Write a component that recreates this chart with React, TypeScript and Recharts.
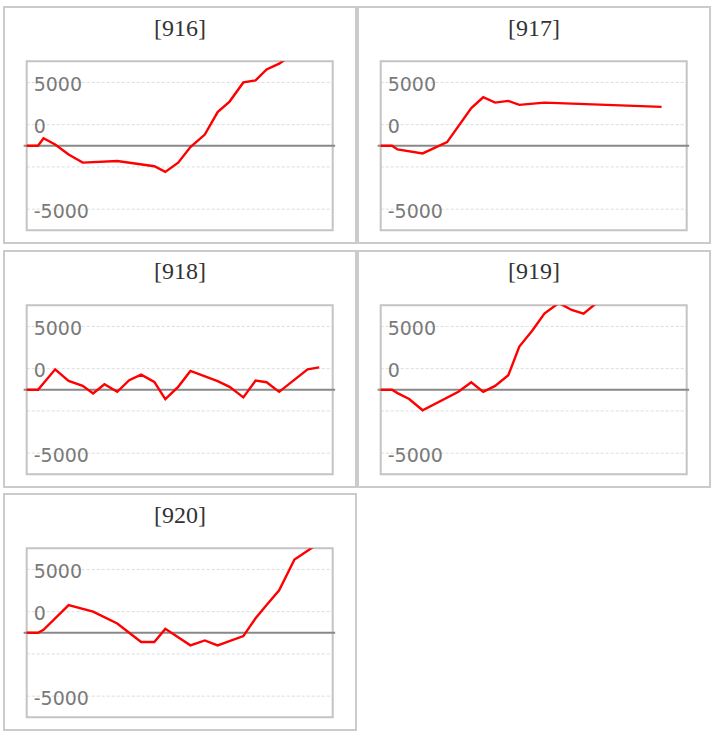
import React from 'react';
import { LineChart, Line, XAxis, YAxis, CartesianGrid, ReferenceLine, ReferenceArea } from 'recharts';

// shared sample times (x axis runs 0..100)
const times = [
  0, 3.7, 5.5, 9.3, 13.7, 18.3, 21.7, 25.4, 29.6, 33.5, 37.4, 41.7, 45.3,
  49.5, 53.5, 58.2, 62.4, 66.3, 70.8, 74.8, 78.4, 82.5, 87.5, 91.8, 95.6,
];

const v916 = [
  0, 0, 600, 100, -680, -1330, null, null, -1200, null, null, -1610, -2060,
  -1330, -100, 885, 2660, 3490, 5000, 5160, 6020, 6480, 7300, null, null,
];
const v917 = [
  0, 0, -290, null, -600, null, 290, null, 2970, 3830, 3410, 3540, 3230,
  null, 3410, null, null, null, null, null, null, null, null, 3070, null,
];
const v918 = [
  0, 0, null, 1615, 700, 310, -290, 440, -160, 755, 1200, 625, -730,
  235, 1485, null, 680, 235, -600, 730, 600, -160, null, 1615, 1770,
];
const v919 = [
  0, 0, -260, -730, -1615, null, null, -160, 600, -160, 310, 1150, 3410,
  4660, 6015, 6850, 6300, 6015, 6900, 7600, null, null, null, null, null,
];
const v920 = [
  0, 0, 235, null, 2190, null, 1670, null, 730, null, -730, -730, 310,
  null, -990, -600, -990, null, -260, 1150, 2190, 3360, 5780, 6480, 7100,
];

const titles = ['916', '917', '918', '919', '920'];
const seriesList = [v916, v917, v918, v919, v920];

const yTicks = [-5000, -3333, -1667, 0, 1667, 3333, 5000];
const yTickLabels = ['-5000', '', '', '', '0', '', '5000'];
const yDomain = [-6667, 6667];

const PANEL_W = 354;
const PANEL_H = 238;
const PLOT_LEFT = 21.7;

function YTick(props: any) {
  const { y, payload } = props;
  const label = yTickLabels[yTicks.indexOf(payload.value)];
  if (!label) return <g />;
  return (
    <text x={PLOT_LEFT + 7} y={y + 8.5} fontFamily="DejaVu Sans, Verdana, sans-serif" fontSize={19} fill="#7a7a7a">
      {label}
    </text>
  );
}

function Panel({ title, values, left, top }: { title: string; values: (number | null)[]; left: number; top: number }) {
  const rows = times.map((t, i) => ({ t, v: values[i] }));
  return (
    <div
      style={{
        position: 'absolute',
        left,
        top,
        width: PANEL_W,
        height: PANEL_H,
        border: '2px solid #cbcbcb',
        boxSizing: 'border-box',
        background: '#fff',
      }}
    >
      <div
        style={{
          position: 'absolute',
          left: 0,
          right: 0,
          top: 5.6,
          textAlign: 'center',
          fontFamily: '"Liberation Serif", serif',
          fontSize: 24,
          lineHeight: '28px',
          color: '#333',
        }}
      >
        [{title}]
      </div>
      <div style={{ position: 'absolute', left: 0, top: 0 }}>
        <LineChart width={350} height={234} data={rows} margin={{ top: 53.3, left: PLOT_LEFT, right: 22.3, bottom: 11.7 }}>
          <CartesianGrid vertical={false} stroke="#dcdcdc" strokeDasharray="3 2" />
          <XAxis type="number" dataKey="t" domain={[0, 100]} hide />
          <YAxis
            type="number"
            domain={yDomain}
            ticks={yTicks}
            allowDataOverflow
            mirror
            axisLine={false}
            tickLine={false}
            tick={(p: any) => <YTick {...p} />}
          />
          <ReferenceArea x1={0} x2={100} y1={yDomain[0]} y2={yDomain[1]} fill="none" stroke="#c4c4c4" strokeWidth={2} />
          <ReferenceLine
            segment={[{ x: -1, y: 0 }, { x: 100.8, y: 0 }]}
            ifOverflow="visible"
            stroke="#888"
            strokeWidth={2}
          />
          <Line
            type="linear"
            dataKey="v"
            stroke="#ff0000"
            strokeWidth={2.4}
            dot={false}
            connectNulls
            isAnimationActive={false}
          />
        </LineChart>
      </div>
    </div>
  );
}

export default function App() {
  return (
    <div style={{ position: 'absolute', left: 0, top: 0, width: 712, height: 736 }}>
      {titles.map((t, i) => (
        <Panel
          key={t}
          title={t}
          values={seriesList[i]}
          left={3 + (i % 2) * PANEL_W}
          top={6 + Math.floor(i / 2) * 243.5}
        />
      ))}
    </div>
  );
}
